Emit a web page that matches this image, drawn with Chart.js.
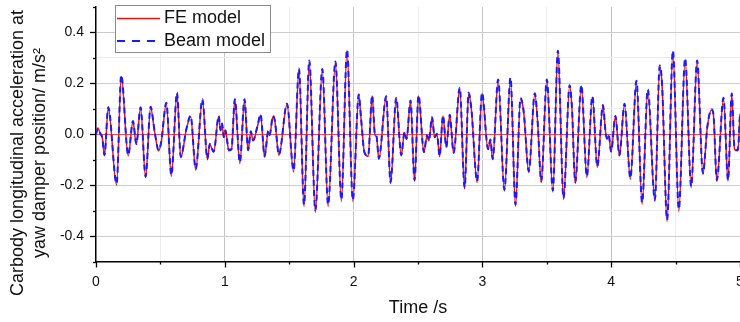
<!DOCTYPE html>
<html><head><meta charset="utf-8">
<script src="https://cdn.jsdelivr.net/npm/chart.js@4"></script>
<style>html,body{margin:0;padding:0;background:#fff}canvas{display:block}</style>
</head><body>
<canvas id="c" width="740" height="322"></canvas>
<script>
const times = [0,0.014,0.035,0.048,0.066,0.095,0.160,0.196,0.250,0.287,
0.313,0.346,0.385,0.424,0.455,0.486,0.507,0.546,0.585,0.629,
0.658,0.702,0.735,0.774,0.826,0.865,0.883,0.914,0.953,0.967,
0.979,0.992,1.005,1.018,1.031,1.052,1.078,1.117,1.153,1.181,
1.202,1.220,1.252,1.278,1.309,1.337,1.348,1.374,1.389,1.420,
1.483,1.534,1.576,1.615,1.656,1.703,1.757,1.802,1.859,1.905,
1.949,1.994,2.040,2.058,2.084,2.113,2.144,2.165,2.178,2.196,
2.253,2.287,2.331,2.370,2.395,2.411,2.442,2.473,2.504,2.546,
2.570,2.585,2.609,2.629,2.647,2.668,2.694,2.720,2.746,2.777,
2.824,2.862,2.893,2.914,2.959,2.997,3.044,3.062,3.080,3.122,
3.171,3.218,3.257,3.296,3.321,3.360,3.407,3.428,3.457,3.500,
3.547,3.586,3.630,3.677,3.695,3.721,3.768,3.811,3.854,3.892,
3.936,3.955,3.967,3.981,3.999,4.033,4.064,4.103,4.149,4.196,
4.240,4.284,4.339,4.377,4.395,4.434,4.479,4.525,4.574,4.621,
4.667,4.712,4.747,4.780,4.794,4.820,4.872,4.907,4.936,4.958,
4.983,5.000];

const feValues = [0.000,0.025,0.000,-0.010,-0.085,0.104,-0.200,0.228,-0.085,0.050,
-0.040,0.104,-0.170,0.105,0.010,-0.065,-0.030,0.120,-0.165,0.160,
-0.092,0.020,0.070,-0.140,0.135,-0.100,-0.040,-0.070,0.070,0.014,
0.040,-0.013,0.014,-0.026,-0.065,-0.060,0.135,-0.115,0.135,-0.065,
0.010,-0.026,0.027,0.075,-0.090,0.010,-0.005,0.070,0.050,-0.083,
0.117,-0.148,0.255,-0.284,0.285,-0.306,0.252,-0.284,0.282,-0.264,
0.329,-0.264,0.153,0.060,-0.072,-0.087,0.150,0.000,-0.010,-0.098,
0.146,-0.194,0.140,-0.085,0.007,-0.020,0.130,-0.185,0.150,-0.072,
-0.006,-0.026,0.065,-0.013,0.000,-0.088,0.072,-0.052,0.075,-0.075,
0.180,-0.215,0.160,0.100,-0.190,0.160,-0.060,-0.023,-0.100,0.212,
-0.224,0.218,-0.284,0.139,0.085,-0.150,0.158,0.054,-0.190,0.212,
-0.227,0.325,-0.257,0.190,0.105,-0.194,0.190,-0.170,0.146,-0.130,
0.112,0.014,-0.019,-0.005,-0.070,0.070,-0.085,0.117,-0.177,0.206,
-0.275,0.172,-0.264,0.265,0.192,-0.343,0.325,-0.303,0.294,-0.210,
0.285,-0.158,0.030,0.095,0.075,-0.185,0.140,-0.185,0.157,-0.060,
-0.065,0.080];

const beamValues = [0.000,0.022,0.002,-0.012,-0.082,0.106,-0.194,0.232,-0.082,0.052,
-0.038,0.106,-0.166,0.108,0.012,-0.062,-0.028,0.124,-0.160,0.164,
-0.088,0.022,0.072,-0.136,0.138,-0.096,-0.038,-0.068,0.072,0.016,
0.042,-0.011,0.016,-0.024,-0.062,-0.058,0.138,-0.110,0.138,-0.062,
0.012,-0.024,0.029,0.078,-0.086,0.012,-0.003,0.072,0.052,-0.080,
0.120,-0.142,0.258,-0.276,0.290,-0.298,0.256,-0.276,0.286,-0.256,
0.332,-0.258,0.156,0.062,-0.070,-0.084,0.153,0.002,-0.008,-0.095,
0.149,-0.188,0.143,-0.082,0.009,-0.018,0.133,-0.180,0.153,-0.070,
-0.004,-0.024,0.067,-0.011,0.002,-0.085,0.074,-0.050,0.077,-0.072,
0.183,-0.209,0.163,0.102,-0.184,0.163,-0.058,-0.021,-0.097,0.215,
-0.218,0.222,-0.276,0.142,0.087,-0.145,0.161,0.056,-0.184,0.215,
-0.220,0.328,-0.250,0.193,0.107,-0.188,0.193,-0.165,0.149,-0.126,
0.115,0.016,-0.017,-0.003,-0.067,0.072,-0.082,0.120,-0.172,0.210,
-0.268,0.176,-0.258,0.270,0.195,-0.336,0.328,-0.294,0.298,-0.204,
0.290,-0.153,0.032,0.098,0.077,-0.180,0.143,-0.180,0.160,-0.057,
-0.062,0.082];

const seriesNames = ['FE model', 'Beam model'];
const xTickLabels = ['0', '1', '2', '3', '4', '5'];
const yTickLabels = ['-0.4', '-0.2', '0.0', '0.2', '0.4'];
const xTitle = 'Time /s';
const yTitleLines = ['Carbody longitudinal acceleration at', 'yaw damper position/ m/s\u00b2'];

const RED = '#ee1111';
const BLUE = '#1a1aff';
const FONT = '"Liberation Sans", Arial, sans-serif';

const fePoints = times.map((t, i) => ({x: t, y: feValues[i]}));
const beamPoints = times.map((t, i) => ({x: t, y: beamValues[i]}));

const extras = {
  id: 'extras',
  afterDraw(chart) {
    const {ctx, chartArea: a, scales: {x, y}} = chart;
    ctx.save();
    ctx.strokeStyle = '#000';
    ctx.lineWidth = 1.3;
    for (let i = -5; i <= 5; i++) {
      const py = Math.round(y.getPixelForValue(i / 10)) + 0.5;
      const len = (i % 2 === 0) ? 6 : 3;
      ctx.beginPath(); ctx.moveTo(a.left, py); ctx.lineTo(a.left - len, py); ctx.stroke();
    }
    for (let i = 0; i <= 10; i++) {
      const px = Math.round(x.getPixelForValue(i / 2)) + 0.5;
      const len = (i % 2 === 0) ? 6 : 3;
      ctx.beginPath(); ctx.moveTo(px, a.bottom); ctx.lineTo(px, a.bottom + len); ctx.stroke();
    }
    ctx.fillStyle = '#111';
    ctx.font = '18px ' + FONT;
    ctx.textAlign = 'center';
    ctx.textBaseline = 'middle';
    ctx.translate(18, 153);
    ctx.rotate(-Math.PI / 2);
    ctx.fillText(yTitleLines[0], 0, 0);
    ctx.fillText(yTitleLines[1], 0, 22);
    ctx.restore();

    ctx.save();
    ctx.fillStyle = '#fff';
    ctx.fillRect(115.5, 5.5, 155, 47);
    ctx.strokeStyle = '#8a8a8a';
    ctx.lineWidth = 1;
    ctx.strokeRect(115.5, 5.5, 155, 47);
    ctx.strokeStyle = RED; ctx.lineWidth = 1.5;
    ctx.beginPath(); ctx.moveTo(117, 18.5); ctx.lineTo(160, 18.5); ctx.stroke();
    ctx.strokeStyle = BLUE; ctx.lineWidth = 2; ctx.setLineDash([8, 7]);
    ctx.beginPath(); ctx.moveTo(117, 41); ctx.lineTo(160, 41); ctx.stroke();
    ctx.setLineDash([]);
    ctx.fillStyle = '#111';
    ctx.font = '18px ' + FONT;
    ctx.textAlign = 'left';
    ctx.textBaseline = 'middle';
    ctx.fillText(seriesNames[0], 164, 18.5);
    ctx.fillText(seriesNames[1], 164, 41);
    ctx.restore();
  }
};

new Chart(document.getElementById('c'), {
  type: 'line',
  data: {
    datasets: [
      {label: seriesNames[0], data: fePoints, borderColor: RED, borderWidth: 1.5,
       pointRadius: 0, cubicInterpolationMode: 'monotone', order: 1},
      {label: seriesNames[1], data: beamPoints, borderColor: BLUE, borderWidth: 2,
       borderDash: [6, 4], pointRadius: 0, cubicInterpolationMode: 'monotone', order: 0}
    ]
  },
  options: {
    responsive: false,
    animation: false,
    events: [],
    layout: {padding: {top: 7, right: 0, left: 0, bottom: 0}},
    plugins: {legend: {display: false}, tooltip: {enabled: false}},
    scales: {
      x: {
        type: 'linear', min: 0, max: 5,
        afterFit(s) { s.height = 60.5; s.paddingLeft = 0; s.paddingRight = 0; },
        ticks: {
          stepSize: 0.5, autoSkip: false, maxRotation: 0, padding: 12,
          color: '#111', font: {family: FONT, size: 14},
          callback: v => {
            const r = Math.round(v);
            return Math.abs(v - r) < 1e-6 ? xTickLabels[r] : '';
          }
        },
        grid: {
          drawTicks: false,
          color: c => {
            const v = c.tick ? c.tick.value : 0;
            if (v <= 1e-6 || v >= 5 - 1e-6) return 'rgba(0,0,0,0)';
            return Math.abs(v - Math.round(v)) < 1e-6 ? '#c4c4c4' : '#ededed';
          },
          lineWidth: 1
        },
        border: {display: true, color: '#000', width: 1.5},
        title: {display: true, text: xTitle, color: '#111', font: {family: FONT, size: 18},
                padding: {top: 0, bottom: 3}}
      },
      y: {
        type: 'linear', min: -0.5, max: 0.5,
        afterFit(s) { s.width = 96; s.paddingTop = 0; s.paddingBottom = 0; },
        ticks: {
          stepSize: 0.1, autoSkip: false, padding: 12,
          color: '#111', font: {family: FONT, size: 14},
          callback: v => {
            const lab = Math.abs(v) < 1e-9 ? '0.0' : v.toFixed(1);
            return yTickLabels.includes(lab) ? lab : '';
          }
        },
        grid: {
          drawTicks: false,
          color: c => {
            const v = c.tick ? c.tick.value : 0;
            const k = Math.round(v * 10);
            if (k === 0) return 'rgba(225,50,60,0.85)';
            if (Math.abs(k) === 5) return 'rgba(0,0,0,0)';
            return k % 2 === 0 ? '#cdcdcd' : '#ececec';
          },
          lineWidth: 1
        },
        border: {display: true, color: '#000', width: 1.5}
      }
    }
  },
  plugins: [extras]
});
</script>
</body></html>
